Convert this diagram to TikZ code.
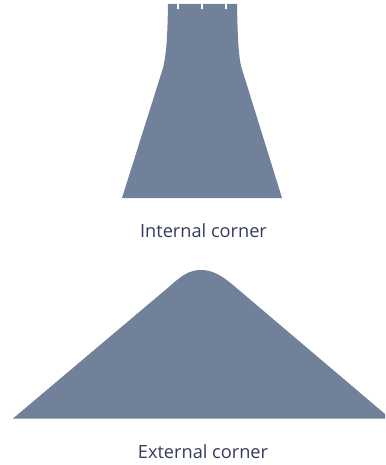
\documentclass[tikz,border=0pt]{standalone}
\usepackage{xcolor}
\usepackage{fontspec}
\setmainfont{Open Sans}
\usetikzlibrary{positioning}
\definecolor{slab}{HTML}{71819A}
\definecolor{caption}{HTML}{343A5E}
\begin{document}
\begin{tikzpicture}[
  x=1pt, y=-1pt,
  slabshape/.style={fill=slab, draw=none},
  notch/.style={draw=white, line width=1.3pt},
  lbl/.style={text=caption, font=\fontsize{18.2}{21}\selectfont, inner sep=0pt, anchor=center}
]
\useasboundingbox (0,0) rectangle (385,465);
% internal corner
\fill[slabshape] (168,4) -- (237,4) .. controls (237.5,30) and (238,52) .. (241,66)
  -- (282,198) -- (122,198) -- (163,68) .. controls (167,52) and (167.5,30) .. (168,4) -- cycle;
\foreach \x in {178,202,226} \draw[notch] (\x,3.5) -- (\x,9);
\node[lbl] (internal) at (203.5,231) {Internal corner};
% external corner
\fill[slabshape] (13,418.5) -- (170,286) .. controls (182,275) and (190,270) .. (201,270)
  .. controls (212,270) and (221,275) .. (233,285) -- (385,414) -- (385,418.5) -- cycle;
\node[lbl] (external) at (203,452) {External corner};
\end{tikzpicture}
\end{document}
